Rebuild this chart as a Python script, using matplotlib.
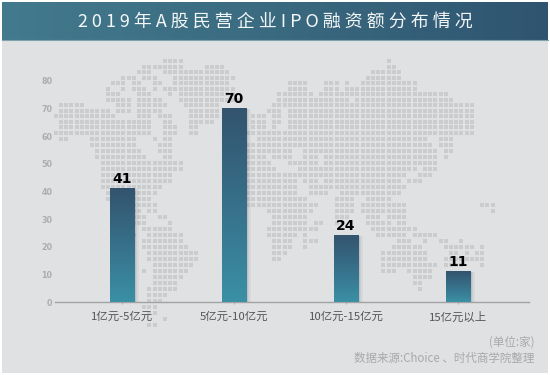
import numpy as np
import matplotlib
matplotlib.use("Agg")
import matplotlib.pyplot as plt
from matplotlib.colors import LinearSegmentedColormap

plt.rcParams['font.family'] = ['Noto Sans CJK SC', 'DejaVu Sans']

categories = ['1亿元-5亿元', '5亿元-10亿元', '10亿元-15亿元', '15亿元以上']
values = [41, 70, 24, 11]
y_ticks = [0, 10, 20, 30, 40, 50, 60, 70, 80]
title = '2 0 1 9 年 A 股 民 营 企 业 I P O 融 资 额 分 布 情 况'
unit_note = '(单位:家)'
source_note = '数据来源:Choice 、时代商学院整理'

# Decorative dot-map background: per row, runs of filled grid columns
map_rows = [
    [(21,24),(64,64)],
    [(17,24),(29,32),(64,65)],
    [(16,18),(21,33),(61,66)],
    [(13,15),(17,19),(23,34),(60,66)],
    [(11,13),(15,16),(19,20),(23,33),(45,48),(52,54),(56,56),(59,69)],
    [(10,10),(13,13),(15,17),(19,19),(21,34),(45,48),(52,54),(56,69)],
    [(10,12),(16,18),(22,22),(24,34),(43,49),(51,75)],
    [(10,14),(16,20),(24,35),(43,56),(58,76)],
    [(1,5),(12,14),(16,21),(25,31),(42,80)],
    [(1,10),(12,14),(16,20),(26,31),(41,43),(45,80)],
    [(0,11),(16,18),(20,22),(26,31),(38,40),(42,43),(45,80)],
    [(1,18),(21,22),(26,30),(38,40),(42,43),(45,80)],
    [(1,18),(21,23),(26,27),(38,40),(42,42),(45,80)],
    [(0,18),(21,23),(26,27),(37,80)],
    [(1,2),(7,15),(19,19),(21,22),(39,71),(74,76)],
    [(7,15),(20,22),(37,72),(74,76)],
    [(8,16),(20,22),(37,45),(48,51),(52,73),(75,76)],
    [(8,17),(21,22),(37,40),(42,45),(48,50),(52,73),(75,75)],
    [(9,24),(36,41),(45,50),(52,73)],
    [(9,24),(36,42),(47,69),(71,73)],
    [(9,22),(36,67),(70,72)],
    [(9,22),(36,46),(48,50),(52,66),(68,70)],
    [(9,20),(37,46),(49,52),(53,67)],
    [(10,19),(37,46),(49,52),(55,66)],
    [(10,18),(37,48),(54,57),(60,64)],
    [(11,19),(37,50),(54,57),(59,64),(65,67),(82,84)],
    [(15,16),(18,19),(41,49),(54,57),(59,67),(84,84)],
    [(15,17),(20,21),(42,48),(54,56),(60,62),(64,67)],
    [(15,17),(22,22),(42,48),(50,51),(54,55),(60,64),(66,67)],
    [(17,22),(41,50),(61,69)],
    [(15,15),(18,24),(41,46),(48,48),(62,67),(69,73)],
    [(17,24),(42,45),(48,50),(66,68),(71,71),(74,75),(78,78)],
    [(17,25),(42,45),(48,48),(65,70),(75,80),(82,82)],
    [(18,27),(42,44),(63,71),(76,77),(79,79),(81,82)],
    [(18,27),(42,43),(63,71),(75,78),(79,82)],
    [(19,26),(63,73),(75,78),(82,82)],
    [(17,17),(19,25),(63,65),(68,72)],
    [(19,24),(69,72)],
    [(19,23),(69,70)],
    [(18,23),(70,70)],
    [(18,21)],
    [(18,20)],
    [(17,19)],
    [(18,19)],
    [(21,21)],
    [(18,19)],
]

W, H = 550, 375
fig = plt.figure(figsize=(W / 100, H / 100), dpi=100, facecolor='white')

# Background layer in pixel units
bg = fig.add_axes([0, 0, 1, 1], zorder=0)
bg.set_xlim(0, W)
bg.set_ylim(H, 0)
bg.axis('off')
bg.add_patch(plt.Rectangle((2, 2), 546, 371, color='#e0e1e3', lw=0, zorder=0.5))

header_cmap = LinearSegmentedColormap.from_list('hdr', ['#437a8d', '#3a6a80', '#2f5470'])
bg.imshow(np.linspace(0, 1, 256).reshape(1, -1), extent=(2, 548, 40, 2), cmap=header_cmap,
          aspect='auto', interpolation='bilinear', zorder=1)
bg.plot([2, 548], [40.3, 40.3], color='#7fa3ad', lw=0.8, zorder=1.5)
bg.set_xlim(0, W)
bg.set_ylim(H, 0)

xs, ys = [], []
for r, runs in enumerate(map_rows):
    py = 61 + 5.51 * r if r <= 13 else 132.7 + 6.0 * (r - 13)
    for a, b in runs:
        for c in range(a, b + 1):
            xs.append(55.7 + 5.2 * c)
            ys.append(py)
bg.scatter(xs, ys, marker='s', s=5.6, color='#cbccce', linewidths=0, zorder=1.2)

bg.text(275, 22, title, color='#f4f7f8', fontsize=12.95, ha='center', va='center', zorder=3)
bg.text(534, 342.5, unit_note, color='#a9a9a9', fontsize=8.3, ha='right', va='center', zorder=3)
bg.text(534, 358, source_note, color='#a9a9a9', fontsize=8.3, ha='right', va='center', zorder=3)

# Chart layer
ax = fig.add_axes([55 / W, 1 - 302.3 / H, (529 - 55) / W, (302.3 - 81) / H], zorder=1)
ax.patch.set_alpha(0)
pos = np.arange(len(categories))
bar_w = 24 / 112

# soft shadow
for off, extra, a in [(0.005, 0.012, .10), (0.012, 0.018, .09), (0.018, 0.026, .07), (0.024, 0.034, .05)]:
    ax.bar(pos + off, values, width=bar_w + extra, color='#303840', alpha=a, lw=0, zorder=2)

bar_cmap = LinearSegmentedColormap.from_list('bar', ['#33546e', '#37708a', '#3a90a5'])
bars = ax.bar(pos, values, width=bar_w, color='none', lw=0, zorder=3)
for rect, v in zip(bars, values):
    x0 = rect.get_x()
    ax.imshow(np.linspace(0, 1, 128).reshape(-1, 1), extent=(x0, x0 + bar_w, 0, v), origin='upper',
              cmap=bar_cmap, aspect='auto', zorder=3, interpolation='bilinear')
    ax.text(x0 + bar_w / 2, v + 0.9, str(v), ha='center', va='bottom', fontsize=10,
            fontweight='bold', family='DejaVu Sans', color='black', zorder=4)

ax.set_xlim(-0.598, 3.634)
ax.set_ylim(0, 80)
ax.set_yticks(y_ticks)
ax.set_yticklabels([str(t) for t in y_ticks], fontsize=5.8, fontweight='bold',
                   family='DejaVu Sans', color='#adadad')
ax.set_xticks(pos)
ax.set_xticklabels(categories, fontsize=8.2, color='#555555')
ax.tick_params(axis='y', length=0, pad=2)
ax.tick_params(axis='x', length=1.5, width=0.6, color='#a0a0a0', pad=5)
for s in ['top', 'left', 'right']:
    ax.spines[s].set_visible(False)
ax.spines['bottom'].set_color('#a2a2a2')
ax.spines['bottom'].set_linewidth(1.0)

fig.savefig('out.png', dpi=100, facecolor='white')
